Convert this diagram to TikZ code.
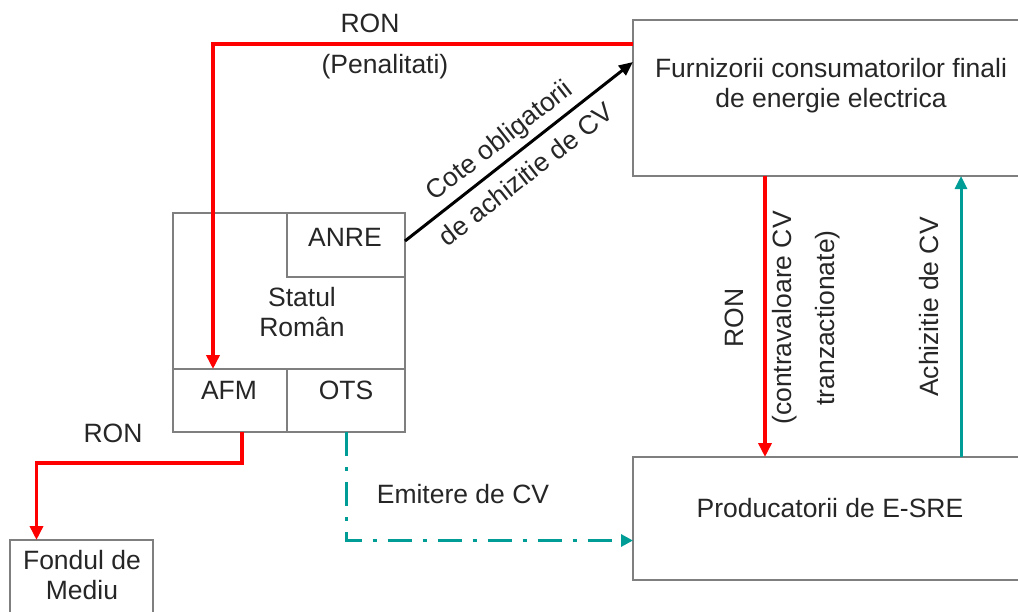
\documentclass[tikz,border=0pt]{standalone}
\usepackage{fontspec}
\setmainfont{Liberation Sans}
\usetikzlibrary{arrows.meta}
\definecolor{boxgray}{HTML}{7F7F7F}
\definecolor{ronred}{HTML}{FF0000}
\definecolor{cvteal}{HTML}{009C96}
\begin{document}
\begin{tikzpicture}[x=1pt,y=-1pt,
  every node/.style={font=\fontsize{26.5}{30}\selectfont, text=black!85},
  box/.style={draw=boxgray, line width=1.6pt, rectangle, inner sep=0pt, outer sep=0pt, anchor=north west},
  txt/.style={inner sep=0pt, align=center},
  redarrow/.style={draw=ronred, line width=3.5pt, -{Triangle[length=14pt,width=13pt]}},
  blackarrow/.style={draw=black, line width=3pt, -{Triangle[length=14pt,width=12pt]}},
  tealarrow/.style={draw=cvteal, line width=3pt, -{Triangle[length=13pt,width=12pt]}},
  tealdash/.style={draw=cvteal, line width=3pt, dash pattern=on 24pt off 11pt on 4pt off 11pt, -{Triangle[length=12pt,width=12pt]}}
]
\useasboundingbox (0,0) rectangle (1018,611);

% boxes
\node[box, minimum width=396pt, minimum height=156pt] (furn) at (633,20) {};
\node[box, minimum width=396pt, minimum height=123pt] (prod) at (633,457) {};
\node[box, minimum width=232pt, minimum height=219pt] (statul) at (173,213) {};
\node[box, minimum width=118pt, minimum height=64pt] (anre) at (287,213) {};
\node[box, minimum width=114pt, minimum height=63pt] (afm) at (173,369) {};
\node[box, minimum width=118pt, minimum height=63pt] (ots) at (287,369) {};
\node[box, minimum width=143pt, minimum height=100pt] (fond) at (10,540) {};

% texts in boxes
\node[txt] (furntext) at (831,86) {Furnizorii consumatorilor finali\\de energie electrica};
\node[txt] (prodtext) at (830,508) {Producatorii de E-SRE};
\node[txt] (statultext) at (302,312) {Statul\\Român};
\node[txt] (anretext) at (345,237) {ANRE};
\node[txt] (afmtext) at (229,390) {AFM};
\node[txt] (otstext) at (346,390) {OTS};
\node[txt] (fondtext) at (82,575) {Fondul de\\Mediu};

% connectors
\draw[redarrow] ([yshift=-24pt]furn.north west) -| ([xshift=-17pt]afm.north);
\node[txt] (ron1) at (370,23) {RON};
\node[txt] (pen) at (385,67) {(Penalitati)};

\draw[blackarrow] ([yshift=4pt]anre.east) -- node[sloped, pos=0.47, txt, font=\fontsize{26.5}{44}\selectfont] (cote) {Cote obligatorii\\de achizitie de CV} ([yshift=36pt]furn.west);

\draw[redarrow] ([xshift=12pt]afm.south) -- ++(0,31) -| ([xshift=-45pt]fond.north);
\node[txt] (ron2) at (113,433) {RON};

\draw[tealdash] (ots.south) |- ([yshift=-22pt]prod.west);
\node[txt] (emit) at (463,494) {Emitere de CV};

\draw[redarrow] ([xshift=-66pt]furn.south) -- ([xshift=-66pt]prod.north);
\node[txt, rotate=90] (ron3) at (734,318) {RON};
\node[txt, rotate=90, font=\fontsize{26.5}{43}\selectfont] (contra) at (806,318) {(contravaloare CV\\tranzactionate)};

\draw[tealarrow] ([xshift=130pt]prod.north) -- ([xshift=130pt]furn.south);
\node[txt, rotate=90] (achiz) at (929,307) {Achizitie de CV};
\end{tikzpicture}
\end{document}
